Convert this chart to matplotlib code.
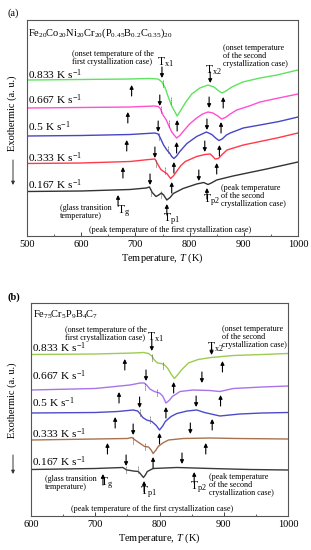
import matplotlib.pyplot as plt
from matplotlib.ticker import MultipleLocator

# 字体: Times 风格
plt.rcParams['font.family'] = 'Liberation Serif'
plt.rcParams['mathtext.fontset'] = 'custom'
plt.rcParams['mathtext.rm'] = 'Liberation Serif'
plt.rcParams['mathtext.it'] = 'Liberation Serif:italic'

rates = ['0.833', '0.667', '0.5', '0.333', '0.167']

# ---------------- (a) Fe20Co20Ni20Cr20(P0.45B0.2C0.35)20 ----------------
a_T_0833 = [500, 600, 690, 725, 742, 749, 755, 760, 767, 777, 784, 793, 804, 819, 834, 845, 854, 860, 867, 878, 898, 930, 961, 1000]
a_h_0833 = [156, 156.5, 157, 157.5, 157, 154, 148, 140, 130, 120, 126, 134, 142, 148, 151, 149, 145, 143, 145, 149, 154, 158, 161, 166]
a_T_0667 = [500, 600, 690, 735, 742, 746, 751, 757, 761, 767, 776, 782, 788, 800, 813, 824, 834, 843, 852, 859, 866, 875, 887, 910, 930, 960, 1000]
a_h_0667 = [128, 128.5, 129, 130, 129.5, 127.5, 121, 116, 111, 104, 98, 100.5, 104.5, 112, 118, 122, 124, 123, 120, 117, 118.5, 122, 126, 130, 134, 137.5, 142]
a_T_05 = [500, 600, 690, 736, 742, 746, 752, 758, 763, 767, 771, 776, 782, 795, 813, 831, 841, 848, 854, 860, 868, 875, 899, 930, 965, 1000]
a_h_05 = [100, 100.5, 101.5, 103, 102, 98, 91, 86, 83, 79.5, 77.5, 80, 84.5, 92.5, 99.5, 104, 101.5, 98, 95.5, 97, 101, 103, 108, 111, 114.5, 119]
a_T_0333 = [500, 600, 690, 725, 736, 742, 747, 752, 758, 765, 770, 776, 784, 792, 813, 828, 838, 843, 847, 853, 860, 869, 899, 930, 961, 1000]
a_h_0333 = [72.5, 73, 74.5, 76.5, 77, 71, 66.5, 64.5, 62.5, 57.5, 60, 64.5, 70.5, 74.5, 79.5, 81.5, 82, 79.5, 77, 77.5, 81.5, 86, 91, 94.5, 98, 103]
a_T_0167 = [500, 600, 690, 720, 726, 731, 738, 743, 748, 752, 755, 758, 764, 770, 788, 813, 826, 834, 840, 850, 880, 942, 1000]
a_h_0167 = [44.5, 45, 46.5, 48, 49, 43.5, 39.5, 41, 43, 41, 38.5, 36, 38.5, 42.5, 47.5, 52, 53.5, 51.5, 53, 56, 60, 67, 74]

# 箭头位置 (温度, 箭头尖端高度)
a_tg_T = [693, 686, 684, 677, 668]
a_tg_h = [151, 124, 96, 69, 41]
a_tx1_T = [749, 745, 742, 736, 727]
a_tx1_h = [158, 130, 104, 78, 51]
a_tx2_T = [838, 836, 832, 828, 817]
a_tx2_h = [153, 128, 106, 84, 55]
a_tp1_T = [777, 776, 771, 767, 758]
a_tp1_h = [116, 94, 74, 54, 32]
a_tp2_T = [862, 858, 855, 850, 832]
a_tp2_h = [139, 114, 91, 73, 48]
# 虚线标记
a_dot_T = [750, 765, 747, 762, 743, 761, 738, 754, 729, 748]
a_dot_h = [153, 136, 127, 113, 100, 87, 73, 66, 44, 42]

# ---------------- (b) Fe75Cr5P9B4C7 ----------------
b_T_0833 = [600, 700, 760, 775, 783, 788, 792, 797, 803, 808, 813, 818, 823, 828, 834, 845, 860, 880, 915, 960, 1000]
b_h_0833 = [161.5, 162, 163, 163.5, 162.5, 160, 156, 153, 152.5, 151, 147.5, 142, 137.5, 141, 146, 153, 156.5, 158.5, 160.5, 161.5, 162.5]
b_T_0667 = [600, 700, 754, 770, 776, 780, 785, 792, 800, 805, 810, 815, 820, 832, 852, 878, 894, 915, 960, 1000]
b_h_0667 = [126, 127.5, 131, 133, 133, 131, 127, 124.5, 123, 120, 113, 115.5, 119.5, 124.5, 126, 125.5, 124.5, 127.5, 129, 130]
b_T_05 = [600, 700, 735, 759, 766, 770, 774, 780, 788, 795, 800, 805, 809, 818, 827, 843, 858, 870, 894, 925, 960, 1000]
b_h_05 = [103, 103.5, 104.5, 106, 105, 102, 98.5, 96, 94.5, 90.5, 86, 90, 94.5, 99.5, 102.5, 105, 106, 103.5, 100, 102, 103, 103.5]
b_T_0333 = [600, 700, 750, 757, 762, 770, 777, 783, 787, 790, 794, 798, 805, 814, 837, 879, 920, 1000]
b_h_0333 = [76, 77, 77.5, 78.5, 76, 72.5, 69.5, 69, 66, 62.5, 65.5, 69.5, 73, 76, 77.5, 78, 77.5, 77]
b_T_0167 = [600, 700, 743, 749, 755, 759, 767, 770, 775, 778, 781, 790, 827, 880, 940, 1000]
b_h_0167 = [46.5, 47.5, 48.5, 46, 45.5, 45, 44.5, 42.5, 38.5, 41, 44.5, 47.5, 48.5, 47.5, 46.5, 46]

b_tg_T = [746, 737, 731, 719, 712]
b_tg_h = [157, 124, 99, 73, 42]
b_tx1_T = [788, 779, 769, 759, 748]
b_tx1_h = [165, 135, 108, 81, 50]
b_tx2_T = [881, 866, 857, 848, 835]
b_tx2_h = [161, 133, 109, 82, 52]
b_tp1_T = [822, 810, 800, 790, 776]
b_tp1_h = [134, 109, 83, 59, 35]
b_tp2_T = [898, 895, 882, 872, 854]
b_tp2_h = [155, 121, 97, 73, 44]
b_dot_T = [788, 805, 778, 796, 770, 785, 759, 778, 748, 766]
b_dot_h = [158.5, 151, 130, 123.5, 103.5, 97, 76, 70, 47, 46.5]

a_colors = ['#5ee35e', '#ff4fd2', '#4646c8', '#ff3a4a', '#333333']
b_colors = ['#9ccc50', '#a874ea', '#4c4cc8', '#a8724e', '#3a3a3a']

a_label_h = [157.5, 132, 105, 74, 47]
b_label_h = [164, 136, 109, 78.5, 50.5]

ARR = 11  # 箭头长度


def arrow(ax, T, tip, up):
    tail = tip - ARR if up else tip + ARR
    ax.annotate('', xy=(T, tip), xytext=(T, tail),
                arrowprops=dict(arrowstyle='-|>', color='black', lw=0.8,
                                mutation_scale=5.5, shrinkA=0, shrinkB=0))


fig = plt.figure(figsize=(3.11, 5.50), dpi=100)
ax_a = fig.add_axes([27 / 311, 1 - 236 / 550, 271 / 311, 216 / 550])
ax_b = fig.add_axes([31 / 311, 1 - 516 / 550, 257 / 311, 213 / 550])

panels = [
    (ax_a, (500, 1000), 216,
     [(a_T_0833, a_h_0833), (a_T_0667, a_h_0667), (a_T_05, a_h_05), (a_T_0333, a_h_0333), (a_T_0167, a_h_0167)],
     a_colors, a_label_h,
     (a_tg_T, a_tg_h, a_tx1_T, a_tx1_h, a_tx2_T, a_tx2_h, a_tp1_T, a_tp1_h, a_tp2_T, a_tp2_h),
     a_dot_T, a_dot_h),
    (ax_b, (600, 1000), 213,
     [(b_T_0833, b_h_0833), (b_T_0667, b_h_0667), (b_T_05, b_h_05), (b_T_0333, b_h_0333), (b_T_0167, b_h_0167)],
     b_colors, b_label_h,
     (b_tg_T, b_tg_h, b_tx1_T, b_tx1_h, b_tx2_T, b_tx2_h, b_tp1_T, b_tp1_h, b_tp2_T, b_tp2_h),
     b_dot_T, b_dot_h),
]

for ax, xlim, ytop, curves, colors, label_h, arr, dot_T, dot_h in panels:
    for (T, h), c, r, lh in zip(curves, colors, rates, label_h):
        ax.plot(T, h, color=c, lw=1.0)
        ax.text(xlim[0] + 2, lh, r + r' K s$^{-1}$', fontsize=8.2, ha='left', va='baseline')
    tg_T, tg_h, tx1_T, tx1_h, tx2_T, tx2_h, tp1_T, tp1_h, tp2_T, tp2_h = arr
    for i in range(5):
        arrow(ax, tg_T[i], tg_h[i], True)
        arrow(ax, tx1_T[i], tx1_h[i], False)
        arrow(ax, tx2_T[i], tx2_h[i], False)
        arrow(ax, tp1_T[i], tp1_h[i], True)
        arrow(ax, tp2_T[i], tp2_h[i], True)
    for T, h in zip(dot_T, dot_h):
        ax.plot([T, T], [h - 3.5, h + 3.5], color='#555555', lw=0.7, ls=(0, (1, 1)))
    ax.set_xlim(*xlim)
    ax.set_ylim(0, ytop)
    ax.set_yticks([])
    ax.xaxis.set_major_locator(MultipleLocator(100))
    ax.xaxis.set_minor_locator(MultipleLocator(50))
    ax.tick_params(axis='x', which='both', direction='in', labelsize=7.5, pad=3, color='#444444')
    ax.tick_params(axis='x', which='major', length=3, width=0.7)
    ax.tick_params(axis='x', which='minor', length=1.5, width=0.6)
    for s in ax.spines.values():
        s.set_color('#555555')
        s.set_linewidth(0.8)
    ax.set_xlabel(r'Temperature, $T$ (K)', fontsize=7.5, labelpad=2)

ann = dict(fontsize=5.9, ha='left', va='center', linespacing=0.95)
TL = 8.5

# (a) 标注
ax_a.text(502, 203, r'Fe$_{20}$Co$_{20}$Ni$_{20}$Cr$_{20}$(P$_{0.45}$B$_{0.2}$C$_{0.35}$)$_{20}$',
          fontsize=7.5, ha='left', va='center')
ax_a.text(583, 178, '(onset temperature of the\nfirst crystallization case)', **ann)
ax_a.text(862, 180, '(onset temperature\nof the second\ncrystallization case)', **ann)
ax_a.text(858, 40, '(peak temperature\nof the second\ncrystallization case)', **ann)
ax_a.text(561, 24, '(glass transition\ntemperature)', **ann)
ax_a.text(764, 6, '(peak temperature of the first crystallization case)', fontsize=5.9, ha='center', va='center')
ax_a.text(740, 174, r'T$_{\rm x1}$', fontsize=TL, ha='left', va='center')
ax_a.text(828, 166, r'T$_{\rm x2}$', fontsize=TL, ha='left', va='center')
ax_a.text(666, 25, r'T$_{\rm g}$', fontsize=TL, ha='left', va='center')
ax_a.text(751, 17, r'T$_{\rm p1}$', fontsize=TL, ha='left', va='center')
ax_a.text(825, 36, r'T$_{\rm p2}$', fontsize=TL, ha='left', va='center')

# (b) 标注
ax_b.text(603, 201, r'Fe$_{75}$Cr$_5$P$_9$B$_4$C$_7$', fontsize=7.5, ha='left', va='center')
ax_b.text(653, 182, '(onset temperature of the\nfirst crystallization case)', **ann)
ax_b.text(898, 179, '(onset temperature\nof the second\ncrystallization case)', **ann)
ax_b.text(877, 31, '(peak temperature\nof the second\ncrystallization case)', **ann)
ax_b.text(622, 33, '(glass transition\ntemperature)', **ann)
ax_b.text(788, 7, '(peak temperature of the first crystallization case)', fontsize=5.9, ha='center', va='center')
ax_b.text(780, 179, r'T$_{\rm x1}$', fontsize=TL, ha='left', va='center')
ax_b.text(874, 169, r'T$_{\rm x2}$', fontsize=TL, ha='left', va='center')
ax_b.text(707, 33, r'T$_{\rm g}$', fontsize=TL, ha='left', va='center')
ax_b.text(770, 24, r'T$_{\rm p1}$', fontsize=TL, ha='left', va='center')
ax_b.text(848, 29, r'T$_{\rm p2}$', fontsize=TL, ha='left', va='center')

# y 轴标签和向下箭头
for yc, y0, y1 in [(113, 160, 185), (400, 455, 474)]:
    fig.text(12 / 311, 1 - yc / 550, 'Exothermic (a. u.)', rotation=90,
             ha='center', va='center', fontsize=7.5)
    ax_a.annotate('', xy=(13 / 311, 1 - y1 / 550), xytext=(13 / 311, 1 - y0 / 550),
                  xycoords='figure fraction', textcoords='figure fraction',
                  arrowprops=dict(arrowstyle='-|>', color='#333333', lw=0.7,
                                  mutation_scale=5, shrinkA=0, shrinkB=0))

fig.text(7 / 311, 1 - 13 / 550, '(a)', fontsize=7.5, va='center')
fig.text(7 / 311, 1 - 297 / 550, '(b)', fontsize=7.5, va='center', fontweight='bold')

fig.savefig('out.png', dpi=100)
